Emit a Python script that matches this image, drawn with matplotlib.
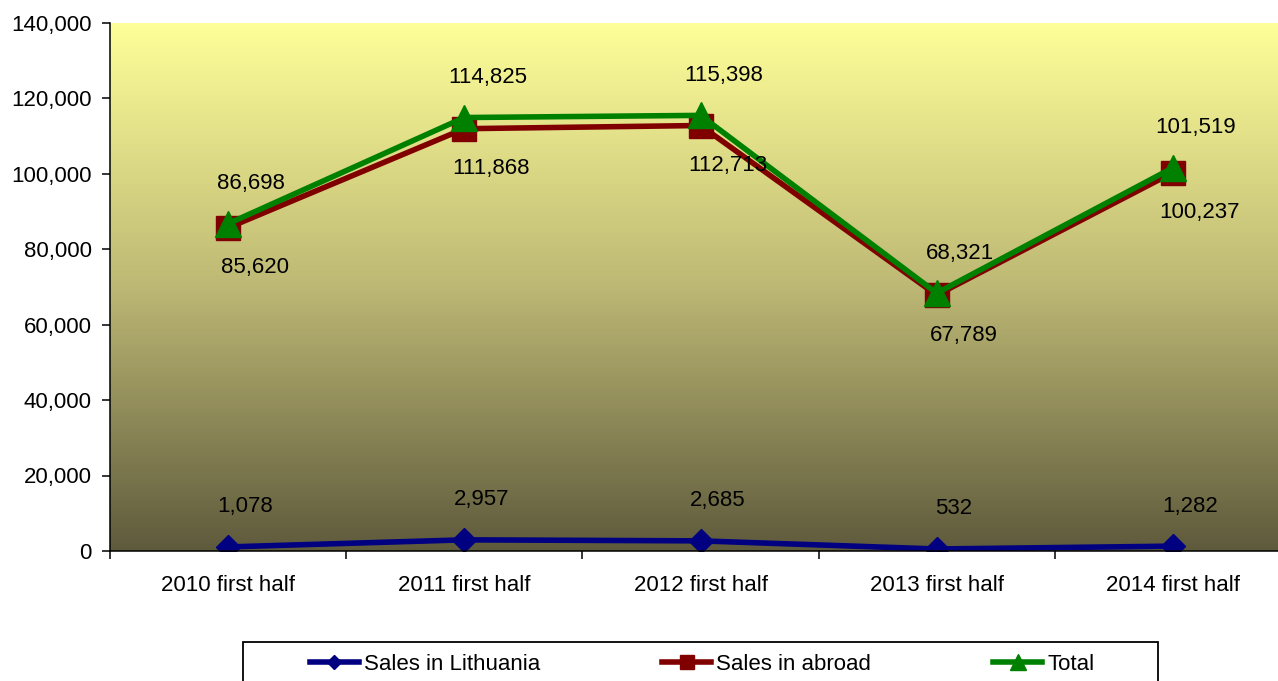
import matplotlib
matplotlib.use("Agg")
import matplotlib.pyplot as plt
import numpy as np
from matplotlib.colors import LinearSegmentedColormap
from matplotlib.patches import Rectangle
from matplotlib.ticker import FuncFormatter, FixedLocator
from matplotlib.transforms import offset_copy

plt.rcParams['font.family'] = ['Liberation Sans', 'DejaVu Sans']

# data
periods = ['2010 first half', '2011 first half', '2012 first half',
           '2013 first half', '2014 first half']
sales_lt = [1078, 2957, 2685, 532, 1282]
sales_abroad = [85620, 111868, 112713, 67789, 100237]
total = [86698, 114825, 115398, 68321, 101519]

W, H = 1278, 681
fig = plt.figure(figsize=(W / 100, H / 100), dpi=100)
ax = fig.add_axes([110 / W, (H - 551) / H, (1291 - 110) / W, (551 - 22.5) / H])

# gradient plot area (light yellow -> dark olive)
cmap = LinearSegmentedColormap.from_list(
    'bg', ['#FFFF99', '#BDB874', '#5E5A3C'])
grad = np.linspace(0, 1, 256).reshape(-1, 1)
ax.imshow(grad, cmap=cmap, extent=[0, 1, 0, 1], transform=ax.transAxes,
          aspect='auto', zorder=0, interpolation='bicubic')

x = np.arange(len(periods))
fs = 16

series = [
    (sales_lt, '#000080', 'D', 12, 'Sales in Lithuania', 40, 17),
    (sales_abroad, '#800000', 's', 17, 'Sales in abroad', -40, 27),
    (total, '#008000', '^', 18.5, 'Total', 40, 23),
]

handles = []
for i, (vals, col, mk, ms, lab, dy, dx) in enumerate(series):
    ln, = ax.plot(x, vals, color=col, lw=4, marker=mk, ms=ms,
                  mec=col, mfc=col, label=lab, zorder=3 + i)
    handles.append(ln)
    tr = offset_copy(ax.transData, fig=fig, x=dx, y=dy, units='dots')
    for xi, v in zip(x, vals):
        ax.text(xi, v, f'{v:,}', transform=tr, ha='center', va='center',
                fontsize=fs, color='black', zorder=10)

ax.set_xlim(-0.5, 4.5)
ax.set_ylim(0, 140000)
ax.set_yticks(np.arange(0, 140001, 20000))
ax.yaxis.set_major_formatter(FuncFormatter(lambda v, p: f'{int(v):,}'))
ax.set_xticks(x)
ax.set_xticklabels(periods)
ax.xaxis.set_minor_locator(FixedLocator(np.arange(-0.5, 4.6, 1)))

ax.tick_params(axis='y', direction='out', length=5.8, width=1.1,
               labelsize=fs, pad=7.5, colors='black')
ax.tick_params(axis='x', which='major', length=0, labelsize=fs, pad=17)
ax.tick_params(axis='x', which='minor', direction='out', length=5.8, width=1.1)

for s in ['top', 'right']:
    ax.spines[s].set_visible(False)
for s in ['left', 'bottom']:
    ax.spines[s].set_linewidth(1.1)
    ax.spines[s].set_color('black')
    ax.spines[s].set_zorder(12)

# legend box
fig.patches.append(Rectangle((243 / W, -0.05), (1158 - 243) / W,
                             (H - 642) / H + 0.05, transform=fig.transFigure,
                             facecolor='white', edgecolor='black', lw=1.3))
leg = fig.legend(handles=handles, loc='center', ncol=3,
                 bbox_to_anchor=(702 / W, (H - 664) / H),
                 frameon=False, fontsize=fs, handlelength=2.2,
                 handletextpad=0.23, columnspacing=5.5, markerscale=0.62)

fig.savefig('out.png', dpi=100)
